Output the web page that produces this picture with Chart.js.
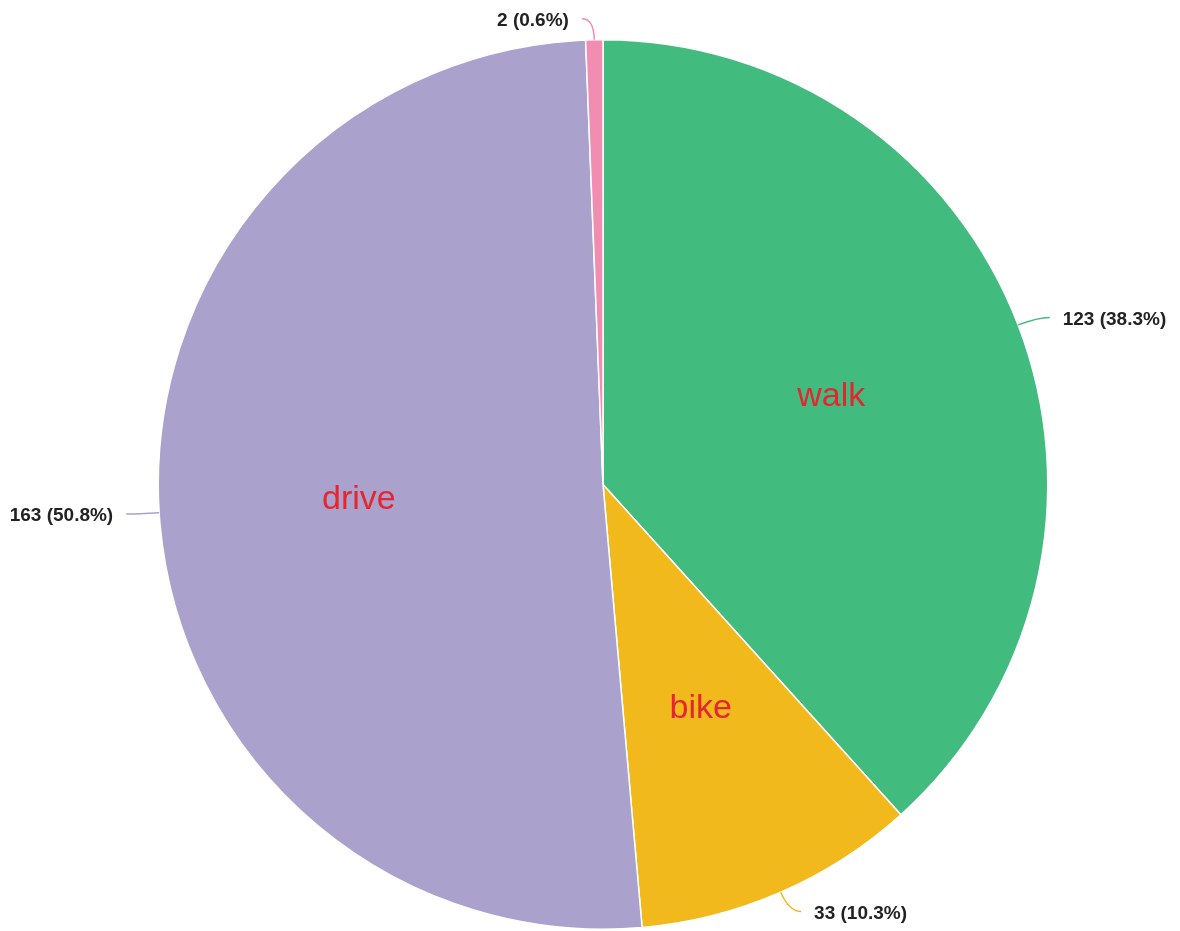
<!DOCTYPE html>
<html>
<head>
<meta charset="utf-8">
<script src="https://cdn.jsdelivr.net/npm/chart.js@4.4.1/dist/chart.umd.min.js"></script>
<style>
  html, body { margin: 0; padding: 0; background: #fff; }
  #wrap { width: 1180px; height: 931px; position: relative; }
</style>
</head>
<body>
<div id="wrap"><canvas id="pie"></canvas></div>
<script>
// Категории и стойности
const categories = ['walk', 'bike', 'drive', 'other'];
const counts = [123, 33, 163, 2];
const sliceColors = ['#42bb7e', '#f2b91c', '#aaa2cc', '#f28db2'];

const total = counts.reduce((a, b) => a + b, 0);

// Плъгин за надписите - вътрешни (категория) и външни (брой и процент)
const pieLabels = {
    id: 'pieLabels',
    afterDatasetsDraw(chart) {
        const ctx = chart.ctx;
        const meta = chart.getDatasetMeta(0);
        meta.data.forEach((arc, i) => {
            const { x, y, startAngle, endAngle, outerRadius } = arc.getProps(['x', 'y', 'startAngle', 'endAngle', 'outerRadius'], true);
            const mid = (startAngle + endAngle) / 2;
            const cos = Math.cos(mid);
            const sin = Math.sin(mid);
            const share = counts[i] / total;

            // Име на категорията вътре в резена (само за по-големите)
            if (share > 0.05) {
                ctx.save();
                ctx.font = '34px "Liberation Sans", Arial, sans-serif';
                ctx.fillStyle = '#e3262f';
                ctx.textAlign = 'center';
                ctx.textBaseline = 'middle';
                const r = outerRadius * 0.55;
                ctx.fillText(categories[i], x + r * cos, y + r * sin);
                ctx.restore();
            }

            // Линия към външния надпис
            const side = cos >= 0 ? 1 : -1;
            const p0 = { x: x + outerRadius * cos, y: y + outerRadius * sin };
            const p1 = { x: x + (outerRadius + 21) * cos, y: y + (outerRadius + 21) * sin };
            const p2 = { x: p1.x + side * 12, y: p1.y };
            ctx.save();
            ctx.strokeStyle = sliceColors[i];
            ctx.lineWidth = 1.5;
            ctx.beginPath();
            ctx.moveTo(p0.x, p0.y);
            ctx.quadraticCurveTo(p1.x, p1.y, p2.x, p2.y);
            ctx.stroke();

            const pct = (100 * share).toFixed(1);
            ctx.font = 'bold 19px "Liberation Sans", Arial, sans-serif';
            ctx.fillStyle = '#222';
            ctx.textAlign = side > 0 ? 'left' : 'right';
            ctx.textBaseline = 'middle';
            ctx.fillText(counts[i] + ' (' + pct + '%)', p2.x + side * 13, p2.y + 2);
            ctx.restore();
        });
    }
};

new Chart(document.getElementById('pie'), {
    type: 'pie',
    data: {
        labels: categories,
        datasets: [{
            data: counts,
            backgroundColor: sliceColors,
            borderColor: '#ffffff',
            borderWidth: 1.5,
            hoverOffset: 0
        }]
    },
    options: {
        responsive: true,
        maintainAspectRatio: false,
        animation: false,
        layout: {
            padding: { top: 39, bottom: 1, left: 157, right: 131 }
        },
        plugins: {
            legend: { display: false },
            tooltip: { enabled: false }
        }
    },
    plugins: [pieLabels]
});
</script>
</body>
</html>
